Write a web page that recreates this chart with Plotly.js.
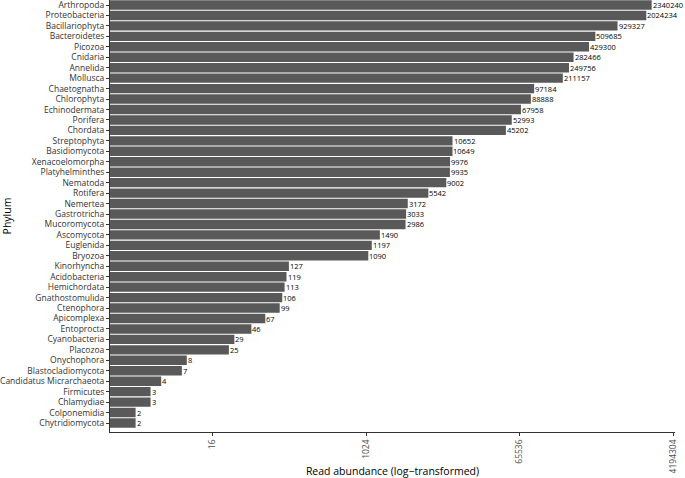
<!DOCTYPE html>
<html>
<head>
<meta charset="utf-8">
<script src="https://cdn.plot.ly/plotly-3.0.1.min.js"></script>
<style>html,body{margin:0;padding:0;background:#fff;}#chart{width:685px;height:478px;}</style>
</head>
<body>
<div id="chart"></div>
<script>
const phyla = ["Arthropoda","Proteobacteria","Bacillariophyta","Bacteroidetes","Picozoa","Cnidaria","Annelida","Mollusca","Chaetognatha","Chlorophyta","Echinodermata","Porifera","Chordata","Streptophyta","Basidiomycota","Xenacoelomorpha","Platyhelminthes","Nematoda","Rotifera","Nemertea","Gastrotricha","Mucoromycota","Ascomycota","Euglenida","Bryozoa","Kinorhyncha","Acidobacteria","Hemichordata","Gnathostomulida","Ctenophora","Apicomplexa","Entoprocta","Cyanobacteria","Placozoa","Onychophora","Blastocladiomycota","Candidatus Micrarchaeota","Firmicutes","Chlamydiae","Colponemidia","Chytridiomycota"];
const reads = [2340240,2024234,929327,509685,429300,282466,249756,211157,97184,88888,67958,52993,45202,10652,10649,9976,9935,9002,5542,3172,3033,2986,1490,1197,1090,127,119,113,106,99,67,46,29,25,8,7,4,3,3,2,2];
const tickValues = [16,1024,65536,4194304];
const tickLabels = ["16","1024","65536","4194304"];

const trace = {
  type: 'bar',
  orientation: 'h',
  y: phyla,
  x: reads,
  marker: {color: '#595959', line: {width: 0}},
  hoverinfo: 'none'
};

const valueLabels = reads.map((v, i) => ({
  x: Math.log10(v), y: phyla[i], xref: 'x', yref: 'y',
  text: String(v), showarrow: false,
  xanchor: 'left', yanchor: 'middle', xshift: -1,
  font: {family: 'Open Sans', size: 7.5, color: '#000'}
}));

const n = phyla.length;
const layout = {
  width: 685, height: 478,
  margin: {l: 110, r: 10, t: 0, b: 46},
  paper_bgcolor: '#fff', plot_bgcolor: '#fff',
  bargap: 0.1,
  showlegend: false,
  font: {family: 'Open Sans', size: 9, color: '#333'},
  annotations: valueLabels,
  xaxis: {
    type: 'log',
    range: [0, Math.log10(Math.pow(2, 22.07))],
    tickvals: tickValues,
    ticktext: tickLabels,
    tickangle: -90,
    ticks: 'outside', ticklen: 3, tickcolor: '#333',
    showline: true, linecolor: '#333', linewidth: 1,
    showgrid: false, zeroline: false,
    tickfont: {family: 'Open Sans', size: 8.5, color: '#4d4d4d'},
    title: {text: 'Read abundance (log\u2212transformed)', font: {family: 'Open Sans', size: 10.5, color: '#000'}, standoff: 6}
  },
  yaxis: {
    type: 'category',
    range: [n - 1 + 0.86, -0.48],
    ticks: 'outside', ticklen: 3, tickcolor: '#333',
    showline: true, linecolor: '#333', linewidth: 1,
    showgrid: false, zeroline: false,
    tickfont: {family: 'Open Sans', size: 8.5, color: '#333'},
    title: {text: 'Phylum', font: {family: 'Open Sans', size: 10.5, color: '#000'}, standoff: 6}
  }
};

Plotly.newPlot('chart', [trace], layout, {staticPlot: true, displayModeBar: false});
</script>
</body>
</html>
